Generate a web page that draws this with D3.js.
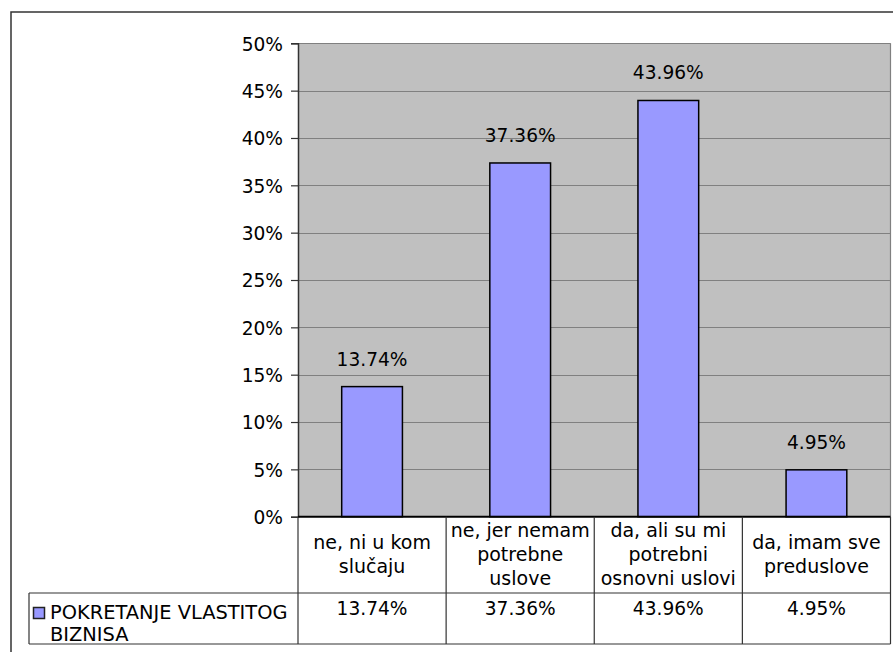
<!DOCTYPE html>
<html>
<head>
<meta charset="utf-8">
<script src="https://cdn.jsdelivr.net/npm/d3@7"></script>
<style>
  html, body { margin: 0; padding: 0; background: #fff; }
  svg { display: block; }
  text { font-family: "DejaVu Sans", Verdana, sans-serif; fill: #000; }
</style>
</head>
<body>
<script>
// ---- data ----
const categories = [
  ["ne, ni u kom", "slučaju"],
  ["ne, jer nemam", "potrebne", "uslove"],
  ["da, ali su mi", "potrebni", "osnovni uslovi"],
  ["da, imam sve", "preduslove"]
];
const values = [13.74, 37.36, 43.96, 4.95];
const valueLabels = ["13.74%", "37.36%", "43.96%", "4.95%"];
const seriesName = ["POKRETANJE VLASTITOG", "BIZNISA"];
const yTicks = [0, 5, 10, 15, 20, 25, 30, 35, 40, 45, 50];

const W = 893, H = 652;
const plot = { left: 298, right: 890.5, top: 43.3, bottom: 516.7 };
const tableBottom = 644, catRowBottom = 593, legendLeft = 29;
const fontSize = 18.6;

const svg = d3.select("body").append("svg").attr("width", W).attr("height", H);

// outer frame (clipped at right/bottom like reference)
svg.append("rect").attr("x", 11).attr("y", 12).attr("width", 920).attr("height", 700)
  .attr("fill", "#fff").attr("stroke", "#333").attr("stroke-width", 1.5);

const idx = d3.range(values.length);
const x = d3.scaleBand().domain(idx).range([plot.left, plot.right]).padding(0);
const y = d3.scaleLinear().domain([0, 50]).range([plot.bottom, plot.top]);

// plot background
svg.append("rect").attr("x", plot.left).attr("y", plot.top)
  .attr("width", plot.right - plot.left).attr("height", plot.bottom - plot.top)
  .attr("fill", "#C0C0C0");

// gridlines
svg.append("g").selectAll("line").data(yTicks.filter(t => t > 0)).join("line")
  .attr("x1", plot.left).attr("x2", plot.right)
  .attr("y1", d => Math.round(y(d)) + 0.5).attr("y2", d => Math.round(y(d)) + 0.5)
  .attr("stroke", "#808080").attr("stroke-width", 1);
// right border of plot
svg.append("line").attr("x1", plot.right).attr("x2", plot.right)
  .attr("y1", plot.top).attr("y2", plot.bottom).attr("stroke", "#808080").attr("stroke-width", 1.2);

// bars
const bw = x.bandwidth() * 0.41;
svg.append("g").selectAll("rect").data(idx).join("rect")
  .attr("x", i => x(i) + (x.bandwidth() - bw) / 2)
  .attr("y", i => y(values[i]))
  .attr("width", bw)
  .attr("height", i => y(0) - y(values[i]))
  .attr("fill", "#9999FF").attr("stroke", "#000").attr("stroke-width", 1.5);

// value labels above bars
svg.append("g").selectAll("text").data(idx).join("text")
  .attr("x", i => x(i) + x.bandwidth() / 2)
  .attr("y", i => y(values[i]) - 21)
  .attr("text-anchor", "middle").attr("font-size", fontSize)
  .text(i => valueLabels[i]);

// y axis
const yAxis = d3.axisLeft(y).tickValues(yTicks).tickFormat(d => d + "%").tickSize(7).tickPadding(8);
const gy = svg.append("g").attr("transform", `translate(${plot.left},0)`).call(yAxis);
gy.select(".domain").attr("stroke", "#333").attr("stroke-width", 1.5);
gy.selectAll(".tick line").attr("stroke", "#333").attr("stroke-width", 1.2);
gy.selectAll(".tick text").attr("font-size", fontSize).attr("font-family", "DejaVu Sans, Verdana, sans-serif").attr("fill", "#000").attr("dy", "0.36em");

// zero line
svg.append("line").attr("x1", plot.left).attr("x2", plot.right)
  .attr("y1", y(0)).attr("y2", y(0)).attr("stroke", "#000").attr("stroke-width", 2);

// data table
const tbl = svg.append("g").attr("stroke", "#333").attr("stroke-width", 1.2);
const vxs = idx.map(i => x(i)).concat([plot.right]);
tbl.selectAll("line.v").data(vxs).join("line").attr("class", "v")
  .attr("x1", d => d).attr("x2", d => d).attr("y1", plot.bottom).attr("y2", tableBottom);
tbl.append("line").attr("x1", legendLeft).attr("x2", plot.right).attr("y1", catRowBottom).attr("y2", catRowBottom);
tbl.append("line").attr("x1", legendLeft).attr("x2", plot.right).attr("y1", tableBottom).attr("y2", tableBottom);
tbl.append("line").attr("x1", legendLeft).attr("x2", legendLeft).attr("y1", catRowBottom).attr("y2", tableBottom);

// category labels
const lh = 24;
const catMid = (plot.bottom + catRowBottom) / 2;
const catG = svg.append("g").selectAll("text").data(idx).join("text")
  .attr("text-anchor", "middle").attr("font-size", 19);
catG.each(function(i) {
  const lines = categories[i];
  const t = d3.select(this);
  const startBase = catMid - (lines.length - 1) * lh / 2 + 6.5;
  lines.forEach((ln, k) => {
    t.append("tspan").attr("x", x(i) + x.bandwidth() / 2).attr("y", startBase + k * lh).text(ln);
  });
});

// value row
svg.append("g").selectAll("text").data(idx).join("text")
  .attr("x", i => x(i) + x.bandwidth() / 2).attr("y", 615)
  .attr("text-anchor", "middle").attr("font-size", fontSize)
  .text(i => valueLabels[i]);

// legend cell
svg.append("rect").attr("x", 33.5).attr("y", 607.5).attr("width", 11).attr("height", 11)
  .attr("fill", "#9999FF").attr("stroke", "#222").attr("stroke-width", 1.5);
const lt = svg.append("text").attr("font-size", 19.4);
seriesName.forEach((s, k) => {
  lt.append("tspan").attr("x", 50).attr("y", 619 + k * 21.8).text(s);
});
</script>
</body>
</html>
